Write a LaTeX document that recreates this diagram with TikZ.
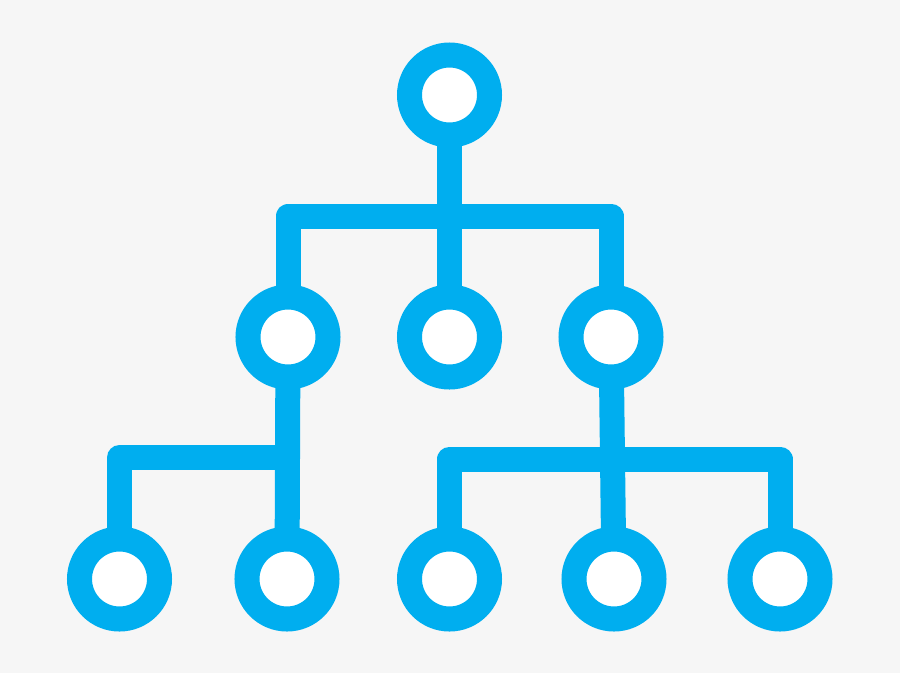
\documentclass[tikz,border=0pt]{standalone}
\usepackage{tikz}
\usetikzlibrary{calc}
\usetikzlibrary{backgrounds}
\definecolor{treeblue}{HTML}{00AEEF}
\definecolor{paper}{HTML}{F6F6F6}
\tikzstyle{member}=[circle, draw=treeblue, fill=white, line width=25pt, minimum size=80pt, inner sep=0pt]
\tikzstyle{branch}=[draw=treeblue, line width=25pt, line join=round]

\begin{document}
\begin{tikzpicture}[x=1pt, y=-1pt]
    \begin{pgfonlayer}{background}
        \fill[paper] (0,0) rectangle (900,673);
    \end{pgfonlayer}
    \useasboundingbox (0,0) rectangle (900,673);
    % top level
    \node[member] (root) at (449.5, 95) {};
    % middle level
    \node[member] (m1) at (288, 337) {};
    \node[member] (m2) at (449.5, 337) {};
    \node[member] (m3) at (611, 337) {};
    % bottom level
    \node[member] (b1) at (119.5, 579) {};
    \node[member] (b2) at (287, 579) {};
    \node[member] (b3) at (449.5, 579) {};
    \node[member] (b4) at (614, 579) {};
    \node[member] (b5) at (780, 579) {};
    % bar heights
    \coordinate (bar1) at (449.5, 216);
    \coordinate (bar2) at (287, 457.5);
    \coordinate (bar3) at (614, 459);
    \begin{pgfonlayer}{background}
        \path[branch] (root.center) -- (m2.center);
        \path[branch] (m1.center) -- (m1 |- bar1) -- (m3 |- bar1) -- (m3.center);
        \path[branch] (m1.center) -- (b2.center);
        \path[branch] (b1.center) -- (b1 |- bar2) -- (bar2);
        \path[branch] (m3.center) -- (b4.center);
        \path[branch] (b3.center) -- (b3 |- bar3) -- (b5 |- bar3) -- (b5.center);
    \end{pgfonlayer}
\end{tikzpicture}
\end{document}
